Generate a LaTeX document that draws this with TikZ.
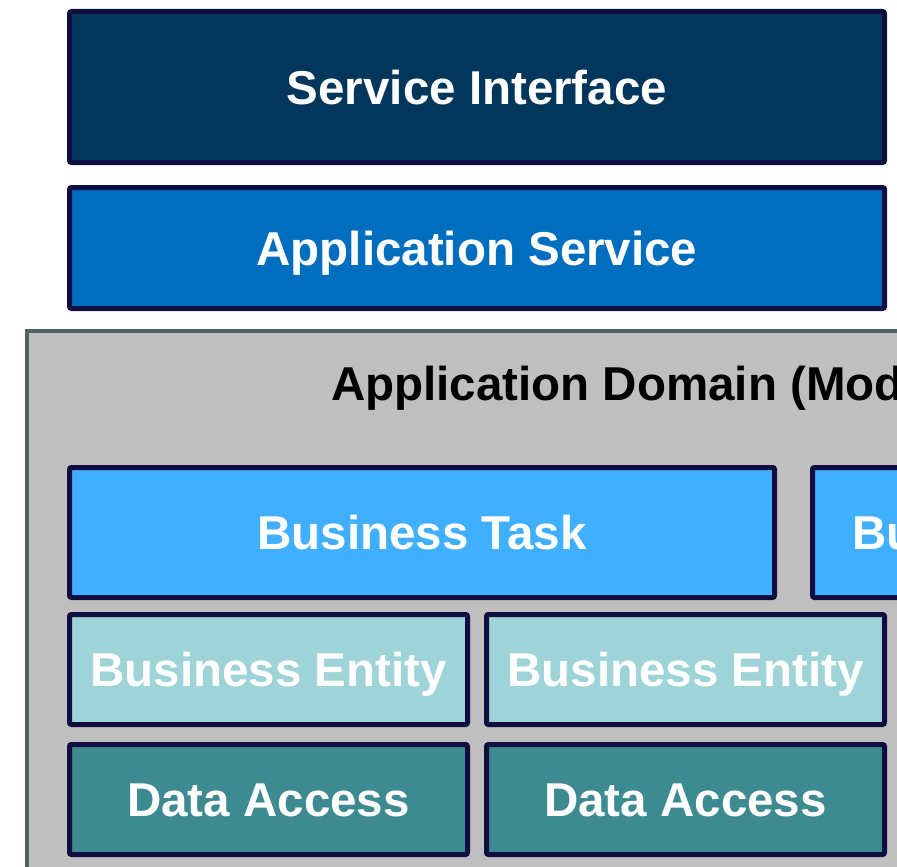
\documentclass[tikz,border=0pt]{standalone}
\usepackage{fontspec}
\setmainfont{Liberation Sans}
\definecolor{navyline}{HTML}{100E40}
\definecolor{sifill}{HTML}{02375B}
\definecolor{asfill}{HTML}{006EBF}
\definecolor{btfill}{HTML}{41AFFF}
\definecolor{befill}{HTML}{9ED3D8}
\definecolor{dafill}{HTML}{3D8B90}
\definecolor{domfill}{HTML}{BFBFBF}
\definecolor{domline}{HTML}{4D6362}
\tikzset{
  layer/.style={draw=navyline, line width=5pt, rounded corners=2pt, rectangle,
    text=white, font=\fontsize{47.5}{50}\selectfont\bfseries,
    text height=34pt, text depth=0pt, inner sep=0pt, outer sep=0pt},
}
\begin{document}
\begin{tikzpicture}[x=1pt,y=-1pt]
\useasboundingbox (0,0) rectangle (897,867);
\clip (0,0) rectangle (897,867);
% domain container
\node[draw=domline, fill=domfill, line width=4pt, rectangle, inner sep=0pt,
  minimum width=1196pt, minimum height=796pt] (domain) at (625,729) {};
\node[font=\fontsize{47.5}{50}\selectfont\bfseries, anchor=base west, inner sep=0pt]
  (domtitle) at (331,400) {Application Domain (Mod};
% top layers
\node[layer, fill=sifill, minimum width=815pt, minimum height=151pt] (si) at (477,87) {Service Interface};
\node[layer, fill=asfill, minimum width=815pt, minimum height=121pt] (as) at (477,248) {Application Service};
% business task row
\node[layer, fill=btfill, minimum width=705pt, minimum height=130pt] (bt) at (422,532.5) {Business Task};
\node[layer, fill=btfill, minimum width=400pt, minimum height=130pt] (bt2) at (1012.5,532.5) {};
\node[font=\fontsize{47.5}{50}\selectfont\bfseries, text=white, anchor=base west, inner sep=0pt]
  (bt2text) at (852,549) {Bu};
% entities
\node[layer, fill=befill, minimum width=398pt, minimum height=110pt] (be1) at (268.5,669.5) {Business Entity};
\node[layer, fill=befill, minimum width=398pt, minimum height=110pt] (be2) at (685.5,669.5) {Business Entity};
% data access
\node[layer, fill=dafill, minimum width=398pt, minimum height=110pt] (da1) at (268.5,799.5) {Data Access};
\node[layer, fill=dafill, minimum width=398pt, minimum height=110pt] (da2) at (685.5,799.5) {Data Access};
\end{tikzpicture}
\end{document}
